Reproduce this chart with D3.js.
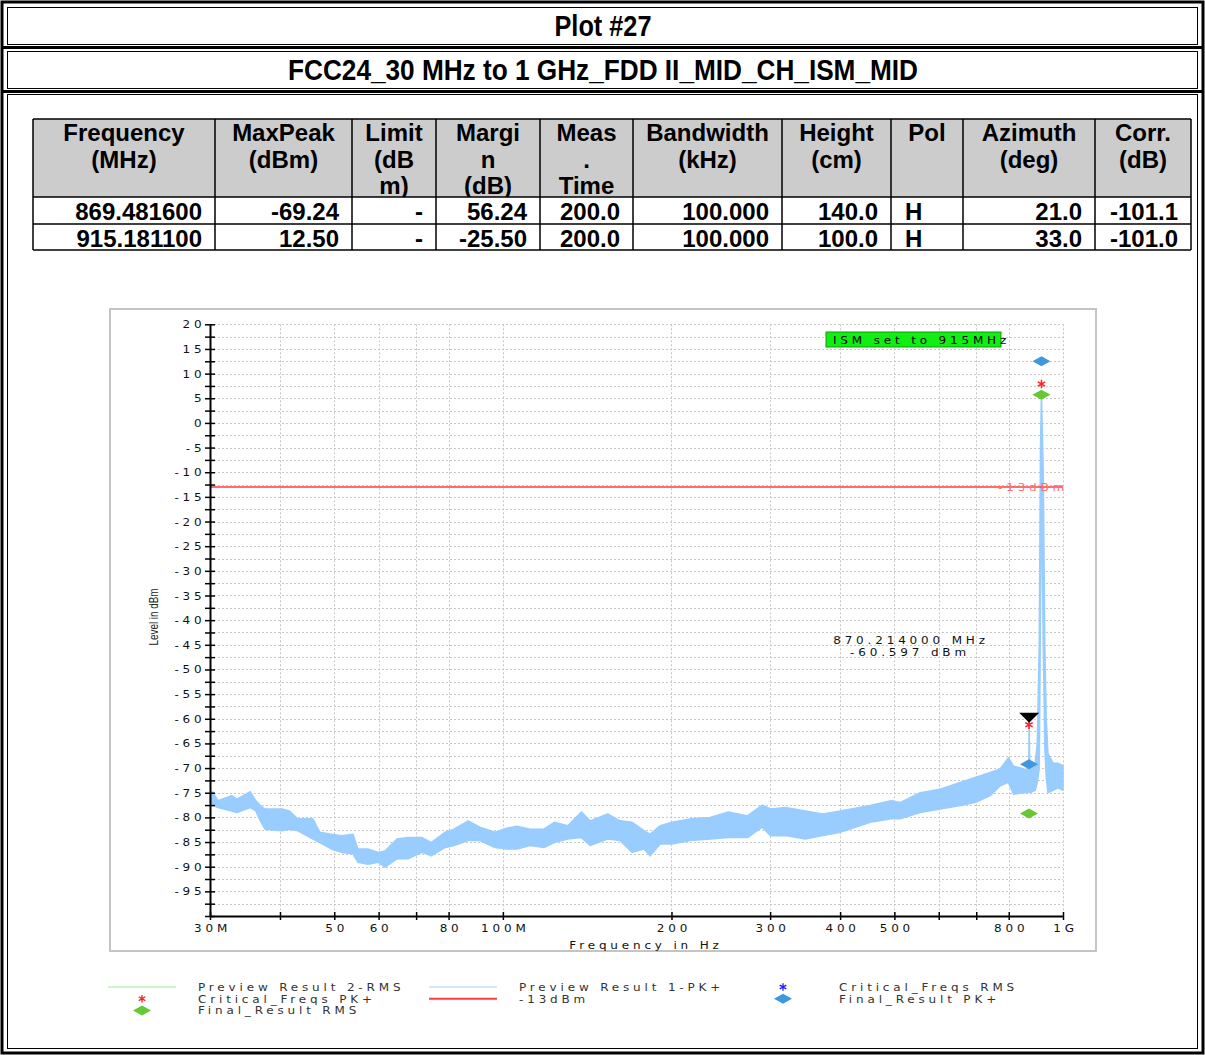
<!DOCTYPE html>
<html>
<head>
<meta charset="utf-8">
<script src="https://cdn.jsdelivr.net/npm/d3@7/dist/d3.min.js"></script>
<style>
  body { margin: 0; background: #fff; }
  svg text { font-family: "Liberation Sans", Arial, sans-serif; }
  .tk { font-family: "DejaVu Sans", sans-serif; font-size: 10px; letter-spacing: 3.2px; fill: #111; }
</style>
</head>
<body>
<div id="my_chart"></div>
<script>
const width = 1205
const height = 1055

// ---- data ----
const titleText = "Plot #27"
const subTitleText = "FCC24_30 MHz to 1 GHz_FDD II_MID_CH_ISM_MID"

const tableHead = [["Frequency", "(MHz)"], ["MaxPeak", "(dBm)"], ["Limit", "(dB", "m)"], ["Margi", "n", "(dB)"],
  ["Meas", ".", "Time"], ["Bandwidth", "(kHz)"], ["Height", "(cm)"], ["Pol"], ["Azimuth", "(deg)"], ["Corr.", "(dB)"]]
const tableRows = [
  ["869.481600", "-69.24", "-", "56.24", "200.0", "100.000", "140.0", "H", "21.0", "-101.1"],
  ["915.181100", "12.50", "-", "-25.50", "200.0", "100.000", "100.0", "H", "33.0", "-101.0"]
]

// trace envelope: frequency (MHz), upper and lower edge (dBm)
const freqs = [30, 30.3, 31.0, 32.8, 33.5, 35.4, 36.2, 36.9, 37.6, 40.3,
  41.6, 43.0, 45.8, 47.1, 49.4, 51.5, 54.0, 55.1, 57.4, 59.9,
  61.6, 64.7, 67.7, 71.7, 74.5, 78.9, 81.8, 86.7, 91.0, 96.8,
  101.6, 105.9, 111.9, 118.4, 123.5, 130.6, 138.1, 143.1, 153.9, 161.9,
  170.2, 178.6, 183.2, 190.9, 200.3, 215.9, 234.4, 252.7, 273.3, 290.5,
  300.6, 319.5, 346.7, 372.5, 400.1, 452.7, 493.3, 512.1, 556, 603.7,
  655.4, 697, 741.5, 772.5, 799, 816, 851, 866, 868.5, 870.2,
  872, 892, 899.5, 907, 911.5, 915.2, 922, 928, 933.5, 940,
  960, 980, 1000]
const traceTop = [-75.2, -74.8, -76.6, -75.6, -76.3, -74.8, -76.6, -77.6, -78.3, -78.3,
  -78.7, -80.3, -80.3, -83.0, -83.4, -83.7, -83.4, -86.4, -86.4, -87.1,
  -86.8, -84.4, -84.1, -84.1, -85.1, -83.0, -82.4, -80.7, -82.0, -83.0,
  -82.2, -81.8, -82.4, -82.4, -81.0, -81.7, -78.9, -80.7, -79.3, -80.7,
  -81.0, -82.7, -83.4, -81.7, -81.0, -80.3, -80.0, -78.9, -79.7, -77.5,
  -78.3, -78.0, -78.7, -79.3, -78.7, -77.6, -76.6, -77.0, -75.0, -74.3,
  -72.9, -71.9, -70.9, -70.2, -67.9, -69.6, -70.2, -70.5, -70, -60.6,
  -70, -69, -65, -45, -5, 6, -10, -45, -60, -67,
  -69, -69, -69.5]
const traceBottom = [-77.0, -77.5, -78.0, -78.7, -79.0, -78.0, -78.7, -80.7, -82.4, -82.7,
  -82.4, -82.7, -84.4, -85.1, -86.4, -87.1, -87.4, -89.1, -89.5, -89.1,
  -90.1, -88.4, -88.4, -87.1, -87.8, -86.1, -85.7, -84.7, -84.7, -86.1,
  -86.4, -86.4, -85.7, -86.1, -85.1, -84.4, -84.1, -85.7, -84.4, -84.7,
  -87.1, -86.4, -87.8, -85.4, -85.4, -84.7, -84.4, -84.1, -84.1, -82.0,
  -83.7, -83.7, -84.4, -83.7, -83.0, -81.0, -80.3, -80.3, -79.0, -78.3,
  -77.6, -77.0, -75.6, -73.6, -72.9, -75.3, -75.0, -75, -74, -74,
  -75, -74.5, -73, -70, -40, -10, -45, -66, -72, -75,
  -74.5, -74, -74.5]

const limitValue = -13
const finalPk = [{ f: 869.4816, v: -69.24 }, { f: 915.1811, v: 12.50 }]
const finalRms = [{ f: 869.4816, v: -79.2 }, { f: 915.1811, v: 5.7 }]
const critPk = [{ f: 869.4816, v: -61.2 }, { f: 915.1811, v: 7.9 }]
const markerPt = { f: 870.214, v: -60.597 }

const yTicks = d3.range(-100, 20.1, 2.5)
const xTicks = [30, 40, 50, 60, 70, 80, 100, 200, 300, 400, 500, 600, 700, 800, 1000]
const xTickLabels = { 30: "30M", 50: "50", 60: "60", 80: "80", 100: "100M", 200: "200", 300: "300", 400: "400", 500: "500", 800: "800", 1000: "1G" }

// ---- page ----
const sx = 1.2 // the plot's small font is drawn wide

const svg = d3.select("#my_chart")
  .append("svg")
    .attr("width", width)
    .attr("height", height)

// wide small text used in the plot
function wideText(g, tx, ty, str, anchor) {
  return g.append("text").attr("class", "tk")
    .attr("transform", `translate(${tx},${ty}) scale(${sx},1)`)
    .attr("text-anchor", anchor || "start")
    .text(str)
}

// frames
svg.append("rect").attr("x", 2).attr("y", 2).attr("width", 1201).attr("height", 1051)
  .attr("fill", "none").attr("stroke", "#000").attr("stroke-width", 3)
const bands = [[7, 44], [51, 88], [94, 1048]]
bands.forEach(b => {
  svg.append("rect").attr("x", 7.5).attr("y", b[0] + 0.5).attr("width", 1190).attr("height", b[1] - b[0])
    .attr("fill", "none").attr("stroke", "#000").attr("stroke-width", 1)
})
svg.append("line").attr("x1", 2).attr("x2", 1203).attr("y1", 47.5).attr("y2", 47.5).attr("stroke", "#000").attr("stroke-width", 3)
svg.append("line").attr("x1", 2).attr("x2", 1203).attr("y1", 91.5).attr("y2", 91.5).attr("stroke", "#000").attr("stroke-width", 3)

svg.append("text").attr("x", 603).attr("y", 36).attr("text-anchor", "middle")
  .style("font-weight", "bold").style("font-size", "29px")
  .attr("textLength", 97).attr("lengthAdjust", "spacingAndGlyphs")
  .text(titleText)
svg.append("text").attr("x", 603).attr("y", 80).attr("text-anchor", "middle")
  .style("font-weight", "bold").style("font-size", "29px")
  .attr("textLength", 630).attr("lengthAdjust", "spacingAndGlyphs")
  .text(subTitleText)

// ---- table ----
const colX = [33, 215, 352, 436, 540, 633, 782, 891, 963, 1095, 1191]
const rowY = [119, 197, 224, 250]
const tbl = svg.append("g").style("font-weight", "bold").style("font-size", "24px")

svg.append("clipPath").attr("id", "headclip")
  .append("rect").attr("x", colX[0]).attr("y", rowY[0]).attr("width", colX[10] - colX[0]).attr("height", rowY[1] - rowY[0])

tbl.append("rect").attr("x", colX[0]).attr("y", rowY[0]).attr("width", colX[10] - colX[0]).attr("height", rowY[1] - rowY[0])
  .attr("fill", "#cccccc")
const head = tbl.append("g").attr("clip-path", "url(#headclip)")
tableHead.forEach((lines, i) => {
  lines.forEach((t, j) => {
    head.append("text").attr("x", (colX[i] + colX[i + 1]) / 2).attr("y", 141 + j * 26.5)
      .attr("text-anchor", "middle").text(t)
  })
})
tableRows.forEach((row, r) => {
  row.forEach((t, i) => {
    const left = i == 7
    tbl.append("text")
      .attr("x", left ? colX[i] + 14 : colX[i + 1] - 13)
      .attr("y", rowY[r + 1] + 23)
      .attr("text-anchor", left ? "start" : "end")
      .text(t)
  })
})
colX.forEach(cx => {
  tbl.append("line").attr("x1", cx).attr("x2", cx).attr("y1", rowY[0]).attr("y2", rowY[3]).attr("stroke", "#000").attr("stroke-width", 1.5)
})
rowY.forEach(ry => {
  tbl.append("line").attr("x1", colX[0]).attr("x2", colX[10]).attr("y1", ry).attr("y2", ry).attr("stroke", "#000").attr("stroke-width", 1.5)
})

// ---- chart ----
svg.append("rect").attr("x", 110).attr("y", 309).attr("width", 986).attr("height", 642)
  .attr("fill", "#fff").attr("stroke", "#c4c4c4").attr("stroke-width", 2)

const x = d3.scaleLog().domain([30, 1000]).range([210, 1063])
const y = d3.scaleLinear().domain([-100, 20]).range([916, 324.3])

const grid = svg.append("g").attr("stroke", "#c8c8c8").attr("stroke-width", 1).attr("stroke-dasharray", "2,2")
grid.selectAll("line.h").data(yTicks.filter(v => v > -100)).join("line")
  .attr("x1", x(30)).attr("x2", x(1000)).attr("y1", d => Math.round(y(d)) + 0.5).attr("y2", d => Math.round(y(d)) + 0.5)
grid.selectAll("line.v").data(xTicks.filter(v => v > 30)).join("line")
  .attr("x1", d => Math.round(x(d)) + 0.5).attr("x2", d => Math.round(x(d)) + 0.5).attr("y1", y(20)).attr("y2", y(-100))

// trace
const traceData = freqs.map((f, i) => ({ f: f, hi: traceTop[i], lo: traceBottom[i] }))
const area = d3.area().x(d => x(d.f)).y0(d => y(d.lo)).y1(d => y(d.hi))
svg.append("path").datum(traceData).attr("d", area)
  .attr("fill", "#99ccff").attr("stroke", "#99ccff").attr("stroke-width", 1.5).attr("stroke-linejoin", "round")

// limit line
svg.append("line").attr("x1", x(30)).attr("x2", x(1000)).attr("y1", y(limitValue)).attr("y2", y(limitValue))
  .attr("stroke", "#ff3c3c").attr("stroke-width", 1.5)
wideText(svg, 998, y(limitValue) + 4, "-13dBm").style("fill", "#ff7070")

// axes
const yAxis = svg.append("g").attr("transform", "translate(210,0)")
  .call(d3.axisLeft(y).tickValues(yTicks).tickSizeOuter(0).tickSizeInner(5)
    .tickFormat(d => (d % 5 == 0 && d > -100) ? String(d) : ""))
yAxis.select(".domain").attr("stroke", "#000").attr("stroke-width", 2)
yAxis.selectAll(".tick line").attr("x1", 5).attr("x2", -5).attr("stroke", "#000").attr("stroke-width", 1.5)
yAxis.selectAll(".tick text").attr("class", "tk").attr("transform", `scale(${sx},1)`)
  .attr("x", -4.5 / sx).attr("dy", "0.35em")

const xAxis = svg.append("g").attr("transform", "translate(0,916)")
  .call(d3.axisBottom(x).tickValues(xTicks).tickSizeOuter(0).tickSizeInner(4)
    .tickFormat(d => xTickLabels[d] || ""))
xAxis.select(".domain").attr("stroke", "#000").attr("stroke-width", 2)
xAxis.selectAll(".tick line").attr("y1", -4).attr("y2", 4).attr("stroke", "#000").attr("stroke-width", 1.5)
xAxis.selectAll(".tick text").attr("class", "tk").attr("transform", `scale(${sx},1)`)
  .attr("x", 2 / sx).attr("y", 9)

wideText(svg, 646, 949, "Frequency in Hz", "middle")
svg.append("text").attr("transform", "translate(158,617) rotate(-90)").attr("text-anchor", "middle")
  .style("font-size", "13px")
  .attr("textLength", 57).attr("lengthAdjust", "spacingAndGlyphs").attr("fill", "#222")
  .text("Level in dBm")

// ISM label
svg.append("rect").attr("x", 826).attr("y", 332).attr("width", 175).attr("height", 15)
  .attr("fill", "#11ee11").attr("stroke", "#119911").attr("stroke-width", 1)
wideText(svg, 833, 344, "ISM set to 915MHz").style("fill", "#000")

// marker readout
wideText(svg, 911, 644, "870.214000 MHz", "middle")
wideText(svg, 910, 655.8, "-60.597 dBm", "middle")

// markers
const diamond = "M-9,0L0,-5L9,0L0,5Z"
svg.selectAll("path.fpk").data(finalPk).join("path")
  .attr("d", diamond).attr("transform", d => `translate(${x(d.f)},${y(d.v)})`).attr("fill", "#3f97dd")
svg.selectAll("path.frms").data(finalRms).join("path")
  .attr("d", diamond).attr("transform", d => `translate(${x(d.f)},${y(d.v)})`).attr("fill", "#66c933")
const star = d3.symbol(d3.symbolAsterisk, 50)
svg.selectAll("path.cpk").data(critPk).join("path")
  .attr("d", star).attr("transform", d => `translate(${x(d.f)},${y(d.v)})`)
  .attr("fill", "none").attr("stroke", "#ff2020").attr("stroke-width", 1.5)
svg.append("path").attr("d", "M-10,-9L10,-9L0,1Z")
  .attr("transform", `translate(${x(markerPt.f)},${y(markerPt.v)})`).attr("fill", "#000")

// ---- legend ----
const lg = svg.append("g")
const legendRows = [
  [{ type: "line", color: "#99ee88", x: 108, t: "Preview Result 2-RMS" }, { type: "line", color: "#aaccff", x: 429, t: "Preview Result 1-PK+" }, { type: "star", color: "#2020ff", x: 783, t: "Critical_Freqs RMS" }],
  [{ type: "star", color: "#ff2020", x: 142, t: "Critical_Freqs PK+" }, { type: "line", color: "#ff3c3c", x: 429, t: "-13dBm", w: 2 }, { type: "dia", color: "#3f97dd", x: 783, t: "Final_Result PK+" }],
  [{ type: "dia", color: "#66c933", x: 142, t: "Final_Result RMS" }]
]
const textX = [198, 519, 839]
legendRows.forEach((row, r) => {
  const ly = 987 + r * 11.7
  row.forEach((it, c) => {
    if (it.type == "line") {
      lg.append("line").attr("x1", it.x).attr("x2", it.x + 68).attr("y1", ly).attr("y2", ly)
        .attr("stroke", it.color).attr("stroke-width", it.w || 1)
    } else if (it.type == "star") {
      lg.append("path").attr("d", d3.symbol(d3.symbolAsterisk, 40)).attr("transform", `translate(${it.x},${ly})`)
        .attr("fill", "none").attr("stroke", it.color).attr("stroke-width", 1.3)
    } else {
      lg.append("path").attr("d", diamond).attr("transform", `translate(${it.x},${ly})`).attr("fill", it.color)
    }
    wideText(lg, textX[c], ly + 3.8, it.t).style("fill", "#333")
  })
})
</script>
</body>
</html>
